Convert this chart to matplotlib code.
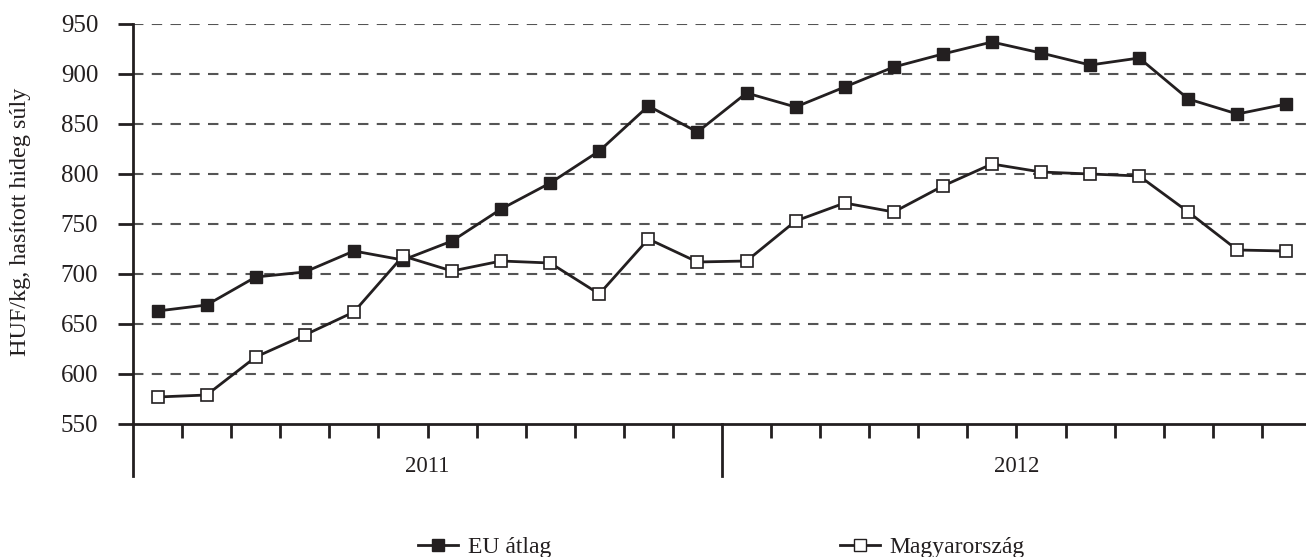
import matplotlib
matplotlib.use("Agg")
import matplotlib.pyplot as plt
import matplotlib.transforms as mtrans
from matplotlib.lines import Line2D

eu_atlag = [663, 669, 697, 702, 723, 714, 733, 765, 791, 823, 868, 842,
            881, 867, 887, 907, 920, 932, 921, 909, 916, 875, 860, 870]
magyarorszag = [577, 579, 617, 639, 662, 718, 703, 713, 711, 680, 735, 712,
                713, 753, 771, 762, 788, 810, 802, 800, 798, 762, 724, 723]
years = ["2011", "2012"]
y_ticks = [550, 600, 650, 700, 750, 800, 850, 900, 950]
series_labels = ["EU átlag", "Magyarország"]
ylabel = "HUF/kg, hasított hideg súly"

plt.rcParams['font.family'] = ['Liberation Serif', 'DejaVu Serif']
W, H = 1306, 557
fig = plt.figure(figsize=(W / 100, H / 100), dpi=100)
ax = fig.add_axes([133 / W, (H - 424) / H, (1311 - 133) / W, 400 / H])

dark = '#231f20'
n = len(eu_atlag)
xs = [i + 0.5 for i in range(n)]

ax.set_xlim(0, n)
ax.set_ylim(550, 950)

for y in y_ticks[1:]:
    ax.axhline(y, color='#555555', lw=1.5, ls=(0, (5, 4)), zorder=1)

ax.plot(xs, eu_atlag, color=dark, lw=2, marker='s', ms=9.3,
        mfc=dark, mec=dark, mew=1, zorder=3, clip_on=False)
ax.plot(xs, magyarorszag, color=dark, lw=2, marker='s', ms=9.3,
        mfc='white', mec=dark, mew=1.2, zorder=3, clip_on=False)

for s in ['top', 'right']:
    ax.spines[s].set_visible(False)
for s in ['left', 'bottom']:
    ax.spines[s].set_color(dark)
    ax.spines[s].set_linewidth(2)

ax.set_yticks(y_ticks)
ax.tick_params(axis='y', direction='out', length=11, width=2, color=dark,
               labelsize=18, pad=14, labelcolor=dark)
ax.set_xticks([])
minor = [i for i in range(1, n) if i % 12 != 0]
ax.set_xticks(minor, minor=True)
ax.tick_params(axis='x', which='minor', direction='out', length=10, width=2,
               color=dark, labelbottom=False)

trans = mtrans.blended_transform_factory(ax.transData, ax.transAxes)
for xb in range(0, n, 12):
    ax.add_line(Line2D([xb, xb], [0, -52 / 400], transform=trans, color=dark,
                       lw=2, clip_on=False))
for k, yr in enumerate(years):
    ax.text(6 + 12 * k, -43 / 400, yr, transform=trans, ha='center',
            va='center', fontsize=16.5, color=dark)

fig.text(21 / W, 1 - 222 / H, ylabel, rotation=90, ha='center', va='center',
         fontsize=17.4, color=dark)

h1 = Line2D([], [], color=dark, lw=2, marker='s', ms=9.3, mfc=dark, mec=dark)
h2 = Line2D([], [], color=dark, lw=2, marker='s', ms=9.3, mfc='white', mec=dark)
for h, lab, xpos in [(h1, series_labels[0], 418), (h2, series_labels[1], 840)]:
    fig.legend([h], [lab], loc='center left',
               bbox_to_anchor=(xpos / W, 1 - 547 / H), frameon=False,
               borderpad=0, borderaxespad=0, handlelength=1.7,
               handletextpad=0.4, fontsize=17, labelcolor=dark)

fig.savefig('out.png', dpi=100)
